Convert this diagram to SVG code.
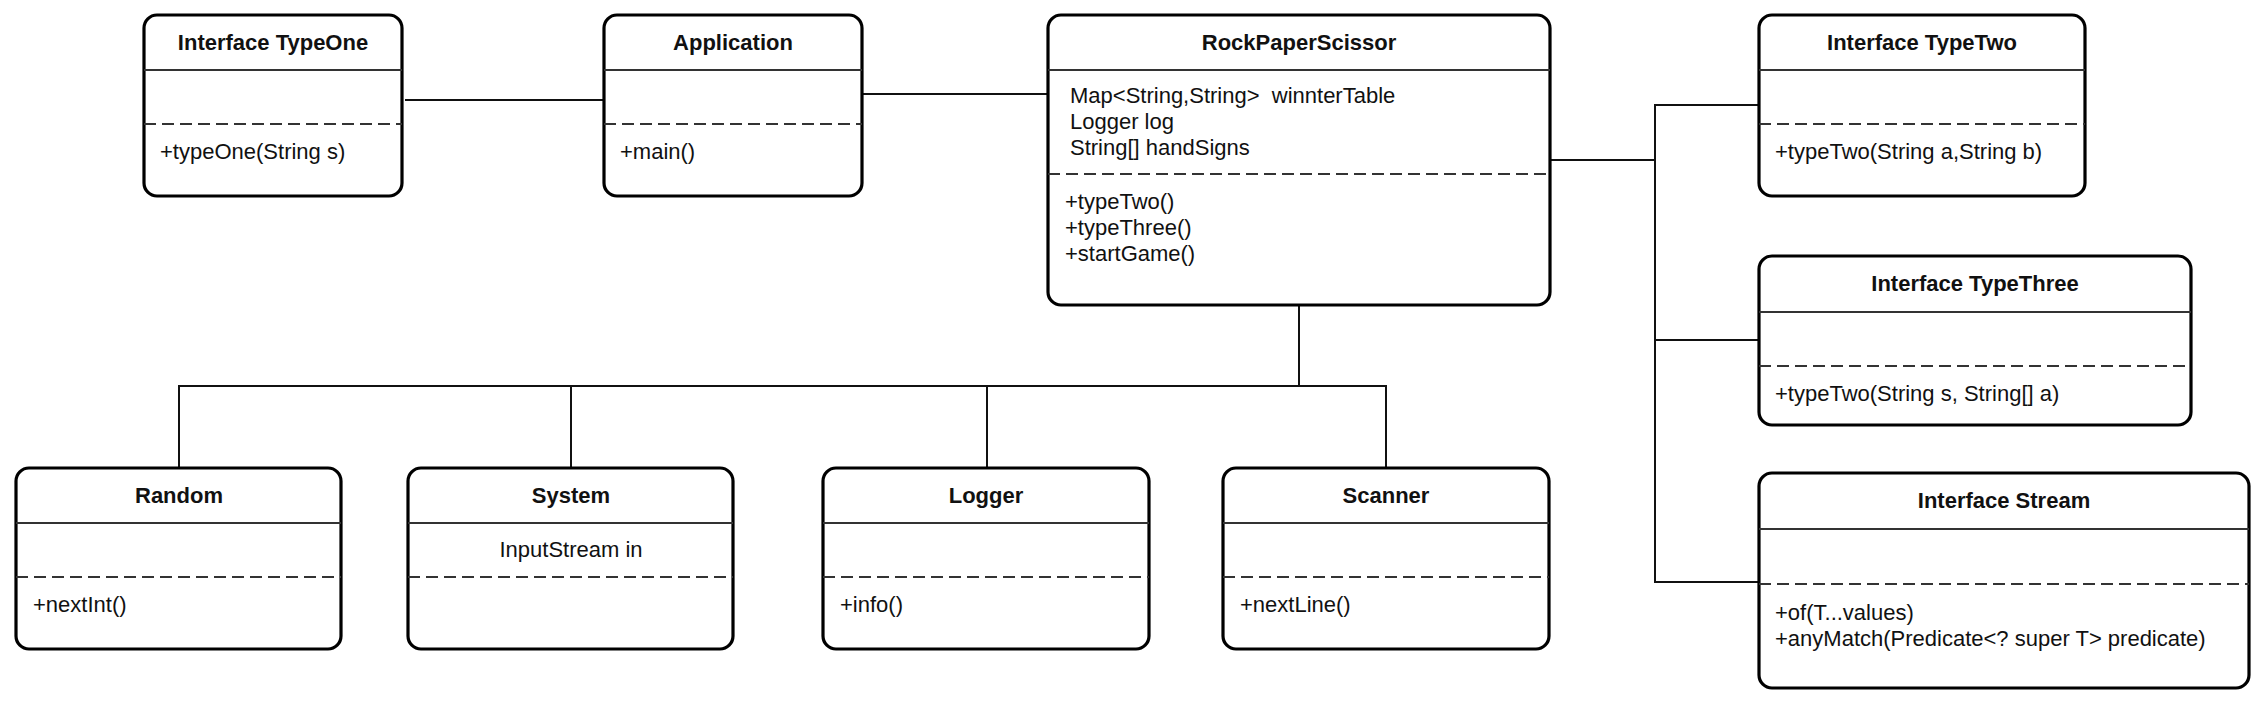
<svg xmlns="http://www.w3.org/2000/svg" width="2259" height="704" viewBox="0 0 2259 704">
<style>
.box{fill:#fff;stroke:#000;stroke-width:3.2}
.sep{stroke:#333;stroke-width:2;fill:none}
.dash{stroke:#333;stroke-width:2;stroke-dasharray:12 6;fill:none}
.conn{stroke:#111;stroke-width:2;fill:none}
text{font-family:"Liberation Sans",Arial,Helvetica,sans-serif;font-size:22px;fill:#111}
.t{font-weight:bold;text-anchor:middle}
.c{text-anchor:middle}
</style>
<rect width="2259" height="704" fill="#fff"/>
<g id="connectors">
<line class="conn" x1="405" y1="100" x2="604" y2="100"/>
<line class="conn" x1="862" y1="94" x2="1048" y2="94"/>
<polyline class="conn" points="1550,160 1655,160"/>
<polyline class="conn" points="1759,105 1655,105 1655,582 1759,582"/>
<line class="conn" x1="1655" y1="340" x2="1759" y2="340"/>
<line class="conn" x1="1299" y1="305" x2="1299" y2="386"/>
<polyline class="conn" points="179,468 179,386 1386,386 1386,468"/>
<line class="conn" x1="571" y1="386" x2="571" y2="468"/>
<line class="conn" x1="987" y1="386" x2="987" y2="468"/>
</g>
<g id="typeone">
<rect class="box" x="144" y="15" width="258" height="181" rx="13"/>
<line class="sep" x1="144" y1="70" x2="402" y2="70"/>
<line class="dash" x1="144" y1="124" x2="402" y2="124"/>
<text class="t" x="273" y="50">Interface TypeOne</text>
<text x="160" y="159">+typeOne(String s)</text>
</g>
<g id="application">
<rect class="box" x="604" y="15" width="258" height="181" rx="13"/>
<line class="sep" x1="604" y1="70" x2="862" y2="70"/>
<line class="dash" x1="604" y1="124" x2="862" y2="124"/>
<text class="t" x="733" y="50">Application</text>
<text x="620" y="159">+main()</text>
</g>
<g id="rockpaperscissor">
<rect class="box" x="1048" y="15" width="502" height="290" rx="13"/>
<line class="sep" x1="1048" y1="70" x2="1550" y2="70"/>
<line class="dash" x1="1048" y1="174" x2="1550" y2="174"/>
<text class="t" x="1299" y="50">RockPaperScissor</text>
<text x="1070" y="103" xml:space="preserve">Map&lt;String,String&gt;  winnterTable</text>
<text x="1070" y="129">Logger log</text>
<text x="1070" y="155">String[] handSigns</text>
<text x="1065" y="209">+typeTwo()</text>
<text x="1065" y="235">+typeThree()</text>
<text x="1065" y="261">+startGame()</text>
</g>
<g id="typetwo">
<rect class="box" x="1759" y="15" width="326" height="181" rx="13"/>
<line class="sep" x1="1759" y1="70" x2="2085" y2="70"/>
<line class="dash" x1="1759" y1="124" x2="2085" y2="124"/>
<text class="t" x="1922" y="50">Interface TypeTwo</text>
<text x="1775" y="159">+typeTwo(String a,String b)</text>
</g>
<g id="typethree">
<rect class="box" x="1759" y="256" width="432" height="169" rx="13"/>
<line class="sep" x1="1759" y1="312" x2="2191" y2="312"/>
<line class="dash" x1="1759" y1="366" x2="2191" y2="366"/>
<text class="t" x="1975" y="291">Interface TypeThree</text>
<text x="1775" y="401">+typeTwo(String s, String[] a)</text>
</g>
<g id="stream">
<rect class="box" x="1759" y="473" width="490" height="215" rx="13"/>
<line class="sep" x1="1759" y1="529" x2="2249" y2="529"/>
<line class="dash" x1="1759" y1="584" x2="2249" y2="584"/>
<text class="t" x="2004" y="508">Interface Stream</text>
<text x="1775" y="620">+of(T...values)</text>
<text x="1775" y="646">+anyMatch(Predicate&lt;? super T&gt; predicate)</text>
</g>
<g id="random">
<rect class="box" x="16" y="468" width="325" height="181" rx="13"/>
<line class="sep" x1="16" y1="523" x2="341" y2="523"/>
<line class="dash" x1="16" y1="577" x2="341" y2="577"/>
<text class="t" x="179" y="503">Random</text>
<text x="33" y="612">+nextInt()</text>
</g>
<g id="system">
<rect class="box" x="408" y="468" width="325" height="181" rx="13"/>
<line class="sep" x1="408" y1="523" x2="733" y2="523"/>
<line class="dash" x1="408" y1="577" x2="733" y2="577"/>
<text class="t" x="571" y="503">System</text>
<text class="c" x="571" y="557">InputStream in</text>
</g>
<g id="logger">
<rect class="box" x="823" y="468" width="326" height="181" rx="13"/>
<line class="sep" x1="823" y1="523" x2="1149" y2="523"/>
<line class="dash" x1="823" y1="577" x2="1149" y2="577"/>
<text class="t" x="986" y="503">Logger</text>
<text x="840" y="612">+info()</text>
</g>
<g id="scanner">
<rect class="box" x="1223" y="468" width="326" height="181" rx="13"/>
<line class="sep" x1="1223" y1="523" x2="1549" y2="523"/>
<line class="dash" x1="1223" y1="577" x2="1549" y2="577"/>
<text class="t" x="1386" y="503">Scanner</text>
<text x="1240" y="612">+nextLine()</text>
</g>
</svg>
